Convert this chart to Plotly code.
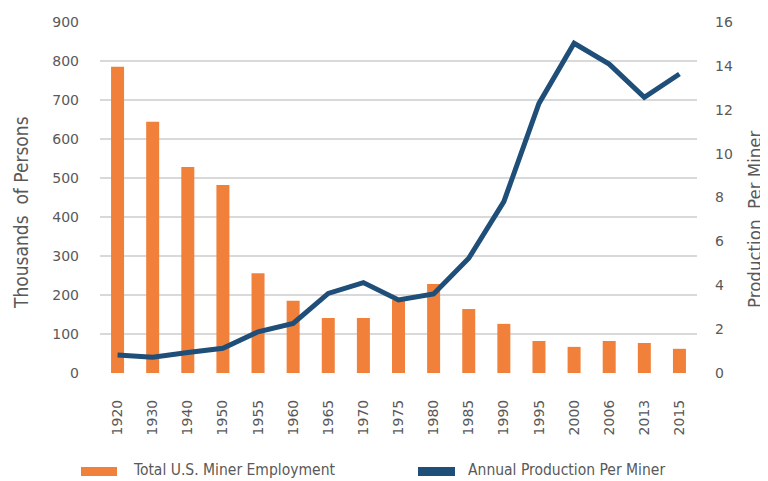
import plotly.graph_objects as go

years = ["1920", "1930", "1940", "1950", "1955", "1960", "1965", "1970", "1975",
         "1980", "1985", "1990", "1995", "2000", "2006", "2013", "2015"]
employment = [785, 644, 528, 482, 256, 185, 141, 141, 187, 228, 164, 126, 82, 67, 82, 77, 62]
production = [0.82, 0.72, 0.93, 1.13, 1.88, 2.26, 3.63, 4.12, 3.33, 3.6, 5.23, 7.81,
              12.29, 15.03, 14.08, 12.57, 13.63]

bar_name = "Total U.S. Miner Employment"
line_name = "Annual Production Per Miner"
left_title = "Thousands  of Persons"
right_title = "Production  Per Miner"

ORANGE = "#F0803A"
BLUE = "#1F4E79"
GRAY = "#595959"
GRID = "#d9d9d9"
FONT = "DejaVu Sans Condensed"
TICKFONT = "DejaVu Sans"

fig = go.Figure()
fig.add_trace(go.Bar(x=years, y=employment, name=bar_name,
                     marker=dict(color=ORANGE, line=dict(width=0)), yaxis="y"))
fig.add_trace(go.Scatter(x=years, y=production, name=line_name,
                         mode="lines", line=dict(color=BLUE, width=5), yaxis="y2"))

# page body has an 8px margin; figure is sized to fit the 768x481 window
OFF = 8
W, H = 768 - OFF, 481 - OFF
# plot-area geometry in window pixels
L, R, T, B = 100, 697, 22, 373
px = lambda x: (x - L) / (R - L)
py = lambda y: (B - y) / (B - T)

shapes = [
    dict(type="rect", xref="paper", yref="paper", x0=px(81), x1=px(117),
         y0=py(476), y1=py(467), fillcolor=ORANGE, line=dict(width=0)),
    dict(type="rect", xref="paper", yref="paper", x0=px(418), x1=px(455),
         y0=py(476), y1=py(467), fillcolor=BLUE, line=dict(width=0)),
]
annotations = [
    dict(text=bar_name, xref="paper", yref="paper", x=px(131), y=py(470.5),
         xanchor="left", yanchor="middle", showarrow=False,
         font=dict(family=FONT, size=15.5, color=GRAY)),
    dict(text=line_name, xref="paper", yref="paper", x=px(466), y=py(470.5),
         xanchor="left", yanchor="middle", showarrow=False,
         font=dict(family=FONT, size=15.5, color=GRAY)),
    dict(text=left_title, xref="paper", yref="paper", x=px(21), y=py(213),
         xanchor="center", yanchor="middle", textangle=-90, showarrow=False,
         font=dict(family=FONT, size=19, color=GRAY)),
    dict(text=right_title, xref="paper", yref="paper", x=px(755), y=py(219),
         xanchor="center", yanchor="middle", textangle=-90, showarrow=False,
         font=dict(family=FONT, size=18.5, color=GRAY)),
]

fig.update_layout(
    width=W, height=H,
    margin=dict(l=L - OFF, r=768 - R, t=T - OFF, b=481 - B),
    paper_bgcolor="white", plot_bgcolor="white",
    font=dict(family=TICKFONT, color=GRAY, size=14),
    bargap=0.63,
    showlegend=False,
    shapes=shapes,
    annotations=annotations,
    xaxis=dict(type="category", tickangle=-90, tickfont=dict(size=14, color=GRAY),
               showgrid=False, showline=False, ticks="", automargin=False,
               ticklabelstandoff=23),
    yaxis=dict(range=[0, 900], dtick=100, gridcolor=GRID, gridwidth=1.5,
               zeroline=False, tickfont=dict(size=14, color=GRAY), automargin=False,
               ticklabelstandoff=20),
    yaxis2=dict(range=[0, 16], dtick=2, overlaying="y", side="right", showgrid=False,
                zeroline=False, tickfont=dict(size=14, color=GRAY), automargin=False,
                ticklabelstandoff=17),
)

fig.write_html("out.html")
